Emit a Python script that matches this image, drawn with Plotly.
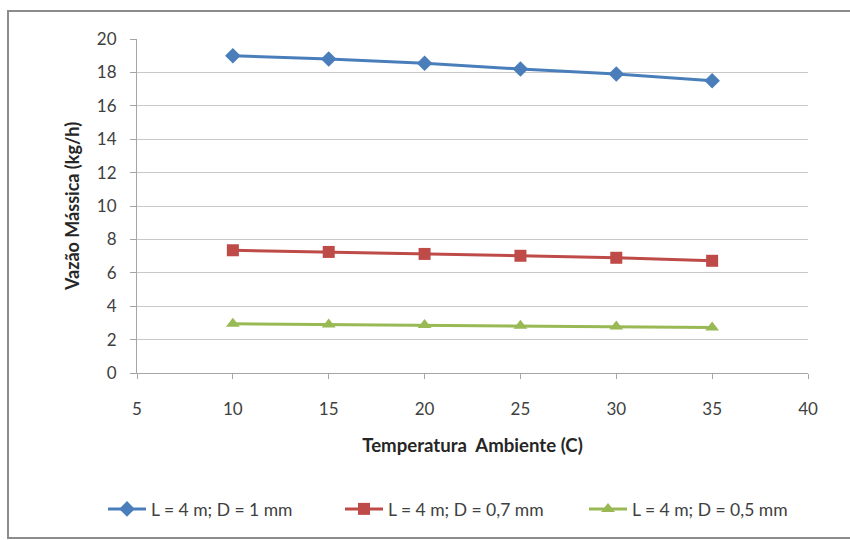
import plotly.graph_objects as go

temps = [10, 15, 20, 25, 30, 35]
d1_mm = [19.0, 18.8, 18.55, 18.2, 17.9, 17.5]
d07_mm = [7.35, 7.25, 7.13, 7.02, 6.9, 6.72]
d05_mm = [2.95, 2.9, 2.87, 2.83, 2.78, 2.72]
names = ["L = 4 m; D = 1 mm", "L = 4 m; D = 0,7 mm", "L = 4 m; D = 0,5 mm"]

FONT = "Lato"
PX0, PW, PY0, PH = 137, 671, 373, 334  # plot area pixel geometry


def px(xp):
    return (xp - PX0) / PW


def py(yp):
    return (PY0 - yp) / PH


fig = go.Figure()
fig.add_trace(go.Scatter(x=temps, y=d1_mm, name=names[0], mode="lines+markers", legend="legend",
                         line=dict(color="#4a7ebb", width=3),
                         marker=dict(symbol="diamond", size=12, color="#4a7ebb")))
fig.add_trace(go.Scatter(x=temps, y=d07_mm, name=names[1], mode="lines+markers", legend="legend2",
                         line=dict(color="#be4b48", width=3),
                         marker=dict(symbol="square", size=12, color="#be4b48")))
fig.add_trace(go.Scatter(x=temps, y=d05_mm, name=names[2], mode="lines+markers", legend="legend3",
                         line=dict(color="#98b954", width=3),
                         marker=dict(symbol="triangle-up", size=12, color="#98b954")))

leg_common = dict(orientation="h", yanchor="middle", xanchor="left", y=py(509),
                  bgcolor="rgba(0,0,0,0)", borderwidth=0, itemwidth=38,
                  font=dict(family=FONT, size=17.5, color="#404040"))

fig.update_layout(
    width=850, height=540,
    margin=dict(l=PX0, r=850 - PX0 - PW, t=PY0 - PH, b=540 - PY0, autoexpand=False),
    paper_bgcolor="white", plot_bgcolor="white",
    font=dict(family=FONT, color="#404040", size=17),
    showlegend=True,
    legend=dict(x=px(103), **leg_common),
    legend2=dict(x=px(340), **leg_common),
    legend3=dict(x=px(584), **leg_common),
    xaxis=dict(range=[5, 40], tickvals=[5, 10, 15, 20, 25, 30, 35, 40],
               showgrid=False, zeroline=False, showline=True, linecolor="#a6a6a6", linewidth=1,
               ticks="outside", ticklen=5, tickcolor="#a6a6a6", ticklabelstandoff=16,
               tickfont=dict(family=FONT, size=17, color="#404040"),
               title=dict(text="<b>Temperatura  Ambiente (C)</b>", standoff=20,
                          font=dict(family=FONT, size=18.6, color="#262626"))),
    yaxis=dict(range=[0, 20], tickvals=list(range(0, 21, 2)),
               showgrid=True, gridcolor="#c8c8c8", gridwidth=1,
               zeroline=False, showline=True, linecolor="#a6a6a6", linewidth=1,
               ticks="outside", ticklen=6, tickcolor="#a6a6a6", ticklabelstandoff=10,
               tickfont=dict(family=FONT, size=17, color="#404040"),
               title=dict(text="<b>Vazão Mássica (kg/h)</b>", standoff=12,
                          font=dict(family=FONT, size=18, color="#262626"))),
    shapes=[dict(type="rect", xref="paper", yref="paper",
                 x0=px(8), x1=px(900), y0=py(538), y1=py(11),
                 line=dict(color="#8c8c8c", width=2), layer="below")],
)
fig.write_html("out.html")
